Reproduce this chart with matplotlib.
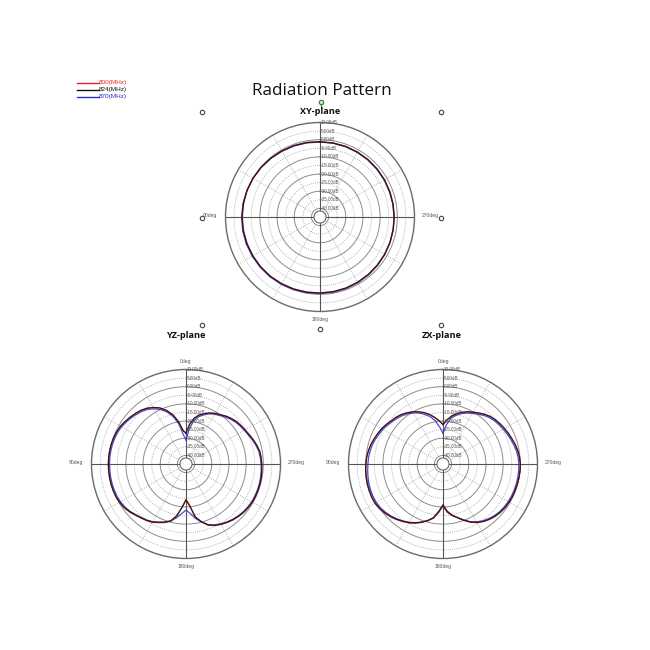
import numpy as np
import matplotlib
matplotlib.use("Agg")
import matplotlib.pyplot as plt

# ---- data (dB) ----
freq_labels = ["800(MHz)", "824(MHz)", "870(MHz)"]
freq_colors = ["#e3242b", "#111111", "#2b2bcc"]

# XY-plane, every 10 deg from 0 to 350
xy_deg = list(range(0, 360, 10))
xy_800 = [-1.1, -0.9, -0.7, -0.5, -0.3, -0.1, 0.1, 0.2, 0.3, 0.4, 0.4, 0.3,
          0.2, 0.1, 0.0, -0.2, -0.4, -0.6, -0.7, -0.8, -1.0, -1.1, -1.3, -1.4,
          -1.5, -1.6, -1.7, -1.8, -1.8, -1.7, -1.6, -1.5, -1.4, -1.3, -1.2, -1.2]
xy_824 = [-1.2, -1.0, -0.8, -0.6, -0.4, -0.2, 0.0, 0.2, 0.3, 0.4, 0.4, 0.3,
          0.2, 0.1, 0.0, -0.2, -0.4, -0.6, -0.8, -0.9, -1.0, -1.2, -1.3, -1.5,
          -1.6, -1.7, -1.8, -1.8, -1.8, -1.8, -1.7, -1.6, -1.5, -1.4, -1.3, -1.3]
xy_870 = [-1.4, -1.2, -1.0, -0.8, -0.5, -0.2, 0.1, 0.3, 0.5, 0.6, 0.7, 0.7,
          0.6, 0.5, 0.4, 0.2, 0.0, -0.2, -0.4, -0.5, -0.6, -0.8, -1.0, -1.2,
          -1.4, -1.6, -1.8, -1.9, -2.0, -2.0, -1.9, -1.8, -1.7, -1.6, -1.5, -1.4]

# YZ-plane, every 5 deg from 0 to 355
yz_deg = list(range(0, 360, 5))
yz_800 = [-27.0, -25.5, -20.0, -15.3, -11.8, -9.0, -7.0, -5.4, -4.2, -3.4, -2.6, -1.8,
          -1.0, -0.5, -0.2, 0.0, 0.1, 0.2, 0.2, 0.2, 0.2, 0.2, 0.1, 0.0,
          -0.3, -0.9, -1.8, -3.0, -4.0, -4.8, -5.8, -7.3, -8.7, -10.5, -14.5, -20.0,
          -24.5, -21.0, -13.8, -10.2, -7.2, -5.5, -4.4, -3.4, -2.5, -1.8, -1.2, -0.8,
          -0.5, -0.4, -0.4, -0.4, -0.5, -0.7, -0.9, -1.1, -1.5, -2.4, -3.4, -4.5,
          -5.3, -6.0, -6.6, -7.6, -8.7, -10.0, -11.0, -12.2, -13.8, -15.5, -18.0, -22.0]
yz_824 = [-27.0, -25.5, -20.0, -15.3, -11.8, -9.0, -7.0, -5.4, -4.2, -3.4, -2.6, -1.8,
          -1.0, -0.5, -0.2, 0.0, 0.1, 0.2, 0.2, 0.2, 0.2, 0.2, 0.1, 0.0,
          -0.4, -1.0, -2.0, -3.2, -4.2, -5.0, -6.0, -7.6, -9.0, -10.8, -14.5, -19.8,
          -24.0, -20.5, -13.5, -10.2, -7.2, -5.6, -4.5, -3.5, -2.6, -1.9, -1.3, -0.8,
          -0.5, -0.4, -0.4, -0.4, -0.5, -0.7, -0.9, -1.1, -1.5, -2.4, -3.4, -4.5,
          -5.3, -6.0, -6.6, -7.6, -8.7, -10.0, -11.0, -12.2, -13.8, -15.5, -18.0, -22.0]
yz_870 = [-31.0, -28.0, -21.5, -16.5, -12.8, -10.0, -7.9, -6.2, -5.0, -4.1, -3.3, -2.5,
          -1.7, -1.2, -0.9, -0.7, -0.6, -0.5, -0.5, -0.5, -0.5, -0.5, -0.6, -0.7,
          -1.0, -1.5, -2.3, -3.4, -4.4, -5.2, -6.2, -7.6, -9.0, -10.6, -13.2, -16.0,
          -18.2, -16.0, -12.8, -10.0, -7.4, -5.9, -4.8, -3.8, -2.9, -2.2, -1.6, -1.2,
          -0.9, -0.8, -0.8, -0.8, -0.9, -1.1, -1.3, -1.6, -2.0, -2.9, -3.9, -5.0,
          -5.8, -6.5, -7.2, -8.2, -9.3, -10.6, -11.6, -12.8, -14.5, -16.5, -19.5, -25.0]

# ZX-plane, every 5 deg from 0 to 355
zx_deg = list(range(0, 360, 5))
zx_800 = [-22.0, -19.8, -17.5, -15.2, -13.2, -11.5, -9.9, -8.6, -7.4, -6.5, -5.8, -4.8,
          -3.8, -3.1, -2.3, -1.5, -0.9, -0.4, -0.1, 0.2, 0.4, 0.6, 0.7, 0.8,
          0.7, 0.2, -0.6, -1.6, -2.8, -4.1, -5.4, -7.0, -8.8, -10.8, -13.2, -17.0,
          -20.8, -17.2, -14.6, -12.6, -10.1, -7.6, -5.6, -4.1, -2.9, -2.0, -1.3, -0.8,
          -0.5, -0.3, -0.2, -0.1, 0.0, 0.1, 0.1, -0.2, -0.7, -1.4, -2.2, -2.9,
          -3.6, -4.3, -5.0, -5.9, -7.2, -8.7, -10.1, -11.4, -12.9, -14.7, -16.7, -19.3]
zx_824 = [-22.0, -19.8, -17.5, -15.2, -13.2, -11.5, -9.9, -8.6, -7.4, -6.5, -5.8, -4.8,
          -3.8, -3.1, -2.3, -1.5, -0.9, -0.4, -0.1, 0.2, 0.4, 0.6, 0.7, 0.8,
          0.7, 0.1, -0.8, -1.8, -3.0, -4.3, -5.6, -7.2, -9.0, -11.0, -13.3, -17.5,
          -21.3, -17.5, -14.8, -12.8, -10.3, -7.8, -5.8, -4.2, -3.0, -2.1, -1.4, -0.9,
          -0.6, -0.4, -0.3, -0.2, -0.1, 0.0, 0.0, -0.3, -0.8, -1.5, -2.3, -3.0,
          -3.7, -4.4, -5.1, -6.0, -7.3, -8.8, -10.2, -11.5, -13.0, -14.8, -16.8, -19.3]
zx_870 = [-27.0, -23.5, -19.5, -16.5, -14.3, -12.3, -10.7, -9.4, -8.2, -7.3, -6.6, -5.6,
          -4.6, -3.9, -3.1, -2.4, -1.9, -1.5, -1.3, -1.0, -0.7, -0.4, -0.2, -0.1,
          -0.2, -0.6, -1.3, -2.2, -3.3, -4.5, -5.8, -7.3, -9.0, -10.9, -13.0, -16.8,
          -20.5, -16.8, -14.5, -12.7, -10.4, -8.0, -6.1, -4.6, -3.5, -2.6, -1.9, -1.5,
          -1.2, -1.0, -0.9, -0.8, -0.8, -0.8, -0.8, -1.1, -1.6, -2.3, -3.1, -3.8,
          -4.5, -5.2, -5.9, -6.8, -8.1, -9.6, -11.0, -12.3, -13.8, -15.7, -17.9, -22.0]

ring_db = [10, 5, 0, -5, -10, -15, -20, -25, -30, -35, -40]
ring_labels = ["10.00dB", "5.00dB", "0.00dB", "-5.00dB", "-10.00dB", "-15.00dB",
               "-20.00dB", "-25.00dB", "-30.00dB", "-35.00dB", "-40.00dB"]

W = 650.0
R_MIN, R_MAX, R_HOLE = -45, 10, -41.5
SMALL = ["Liberation Sans", "DejaVu Sans"]


def fx(x):
    return x / W


def fy(y):
    return 1 - y / W


def polar_panel(fig, cx, cy, r, series, show_top=True):
    ax = fig.add_axes([fx(cx - r), fy(cy + r), 2 * r / W, 2 * r / W],
                      projection="polar")
    ax.set_theta_zero_location("N")
    ax.set_theta_direction(1)
    ax.set_rlim(R_MIN, R_MAX)
    ax.grid(False)
    ax.set_xticks([])
    ax.set_yticks([])
    ax.spines["polar"].set_color("#6a6a6a")
    ax.spines["polar"].set_linewidth(1.0)

    full = np.linspace(0, 2 * np.pi, 361)
    for db in ring_db[1:]:
        if db % 10 == 0:
            ax.plot(full, np.full_like(full, db), color="#8c8c8c", lw=0.7, zorder=1)
        else:
            ax.plot(full, np.full_like(full, db), color="#a0a0a0", lw=0.6,
                    ls=(0, (1, 1.5)), zorder=1)
    for a in range(0, 360, 30):
        t = np.radians(a)
        if a % 90 == 0:
            ax.plot([t, t], [R_HOLE, R_MAX], color="#555555", lw=0.8, zorder=1)
        else:
            ax.plot([t, t], [R_HOLE, R_MAX], color="#a0a0a0", lw=0.6,
                    ls=(0, (1, 1.5)), zorder=1)

    # draw 870 first, then 800, then 824 on top (as in the reference)
    for idx in (2, 0, 1):
        deg, vals = series[idx]
        t = np.radians(np.append(deg, deg[0]))
        v = np.append(vals, vals[0])
        ax.plot(t, v, color=freq_colors[idx], lw=0.9, alpha=0.85, zorder=3)

    ax.fill(full, np.full_like(full, R_HOLE), facecolor="white",
            edgecolor="#6a6a6a", lw=0.8, zorder=4)

    for db, lab in zip(ring_db, ring_labels):
        ax.annotate(lab, xy=(0, db), xytext=(0.6, 0), textcoords="offset points",
                    ha="left", va="center", fontsize=3.3, color="#555555",
                    family=SMALL, zorder=5)

    kw = dict(textcoords="offset points", fontsize=3.6, color="#555555",
              family=SMALL, annotation_clip=False)
    if show_top:
        ax.annotate("0deg", xy=(0, R_MAX), xytext=(0, 5.8), ha="center",
                    va="center", **kw)
    ax.annotate("90deg", xy=(np.pi / 2, R_MAX), xytext=(-6.0, 0.8), ha="right",
                va="center", **kw)
    ax.annotate("270deg", xy=(3 * np.pi / 2, R_MAX), xytext=(5.0, 0.8),
                ha="left", va="center", **kw)
    ax.annotate("180deg", xy=(np.pi, R_MAX), xytext=(0, -6.0), ha="center",
                va="center", **kw)
    return ax


fig = plt.figure(figsize=(6.5, 6.5), dpi=100)
fig.patch.set_facecolor("white")

polar_panel(fig, 320, 217, 94.5,
            [(xy_deg, xy_800), (xy_deg, xy_824), (xy_deg, xy_870)], show_top=False)
polar_panel(fig, 186, 464, 94.5,
            [(yz_deg, yz_800), (yz_deg, yz_824), (yz_deg, yz_870)])
polar_panel(fig, 443, 464, 94.5,
            [(zx_deg, zx_800), (zx_deg, zx_824), (zx_deg, zx_870)])

fig.text(fx(322), fy(91), "Radiation Pattern", ha="center", va="center",
         fontsize=12.3, family=["Open Sans", "DejaVu Sans"], color="#111111")
for x, y, name in [(320, 111, "XY-plane"), (186, 336, "YZ-plane"),
                   (442, 336, "ZX-plane")]:
    fig.text(fx(x), fy(y), name, ha="center", va="center", fontsize=6.6,
             fontweight="bold", family=["Open Sans", "DejaVu Sans"], color="#111111")

# overlay in pixel coords: legend + selection handles
ov = fig.add_axes([0, 0, 1, 1], facecolor="none")
ov.set_xlim(0, W)
ov.set_ylim(W, 0)
ov.axis("off")

for i, (lab, col) in enumerate(zip(freq_labels, freq_colors)):
    y = 82.7 + 7 * i
    ov.plot([77, 99], [y, y], color=col, lw=1.0)
    ov.text(98.5, y, lab, color=col, fontsize=4.6, ha="left", va="center",
            family=SMALL)

handles = [(202, 111.5), (441, 111.5), (202, 218), (441, 218),
           (202, 325), (441, 325), (320, 328.5)]
for hx, hy in handles:
    ov.plot(hx, hy, marker="o", ms=3.2, mfc="white", mec="#444444", mew=0.8)
ov.plot([321, 321], [101.5, 108], color="#2e7d32", lw=0.8)
ov.plot(321, 101.5, marker="o", ms=3.2, mfc="#cfe8cf", mec="#2e7d32", mew=0.8)

fig.savefig("out.png", dpi=100, facecolor="white")
